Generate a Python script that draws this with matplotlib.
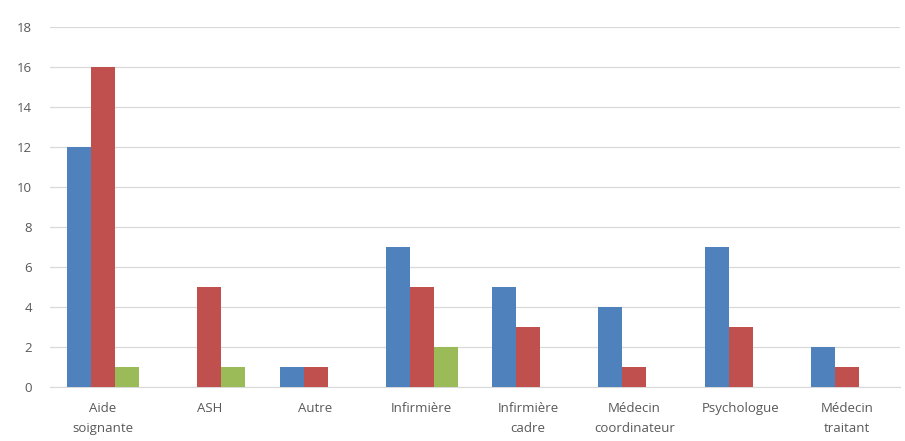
import numpy as np
import matplotlib.pyplot as plt

categories = ["Aide\nsoignante", "ASH", "Autre", "Infirmière", "Infirmière\ncadre",
              "Médecin\ncoordinateur", "Psychologue", "Médecin\ntraitant"]
serie_bleue = [12, 0, 1, 7, 5, 4, 7, 2]
serie_rouge = [16, 5, 1, 5, 3, 1, 3, 1]
serie_verte = [1, 1, 0, 2, 0, 0, 0, 0]

plt.rcParams['font.family'] = ['Open Sans', 'DejaVu Sans']

fig = plt.figure(figsize=[9.05, 4.41], dpi=100)
ax = fig.add_axes([0.0552, 0.1224, 0.9393, 0.8164])

x = np.arange(len(categories))
w = 0.226
ax.bar(x - w, serie_bleue, w, color="#4F81BD", zorder=3)
ax.bar(x, serie_rouge, w, color="#C0504D", zorder=3)
ax.bar(x + w, serie_verte, w, color="#9BBB59", zorder=3)

ax.set_xlim(-0.5, len(categories) - 0.5)
ax.set_ylim(0, 18)
ax.set_yticks(range(0, 19, 2))
ax.yaxis.grid(True, color="#D9D9D9", linewidth=0.9, zorder=0)
ax.set_xticks(x)
ax.set_xticklabels(categories, linespacing=1.7)
ax.tick_params(axis="both", length=0, colors="#595959", labelsize=9.5)
ax.tick_params(axis="x", pad=11)
ax.tick_params(axis="y", pad=13)
for s in ["top", "right", "left"]:
    ax.spines[s].set_visible(False)
ax.spines["bottom"].set_color("#D9D9D9")

plt.savefig("out.png", dpi=100)
